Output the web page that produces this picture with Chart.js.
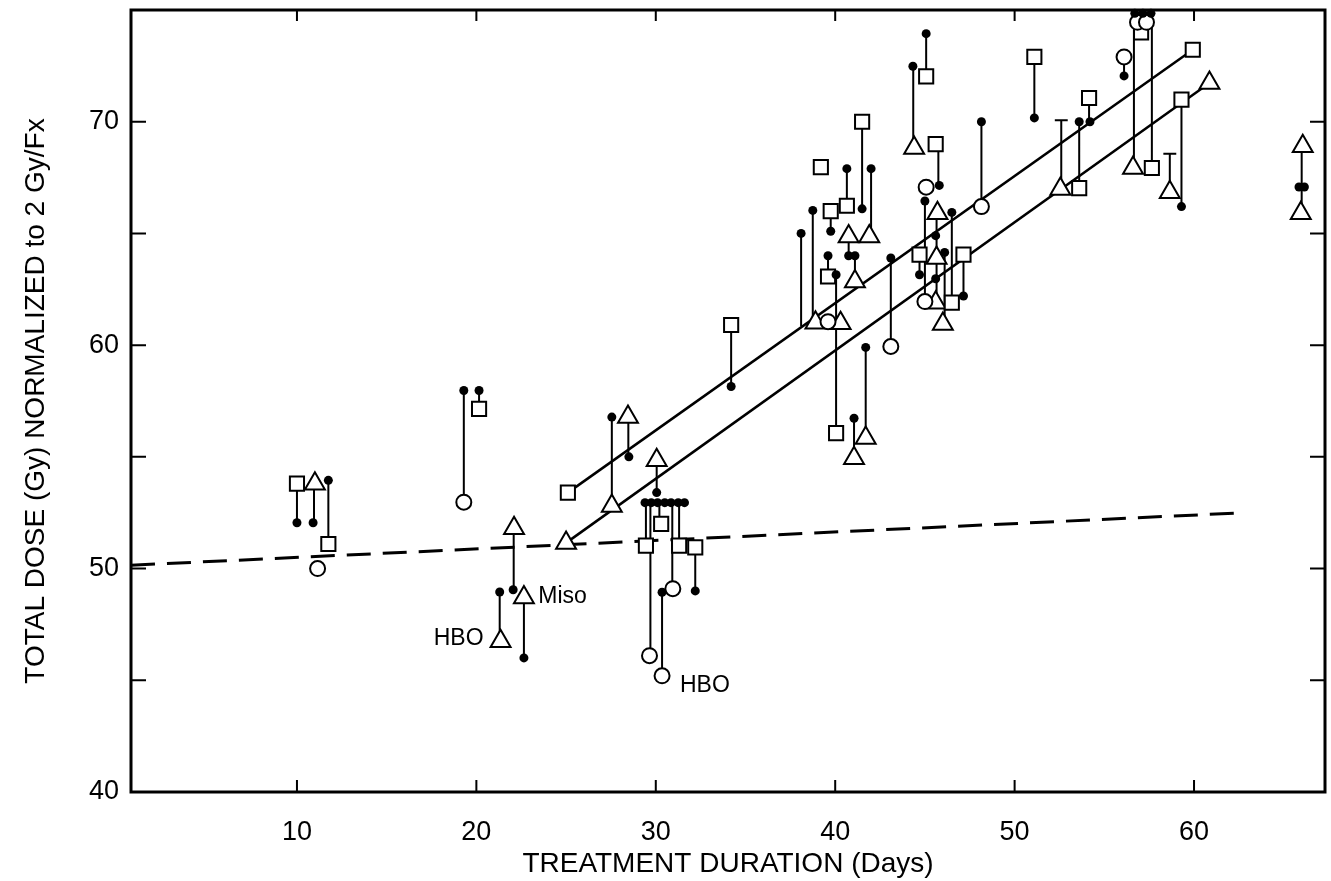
<!DOCTYPE html>
<html>
<head>
<meta charset="utf-8">
<script src="https://cdn.jsdelivr.net/npm/chart.js@4/dist/chart.umd.min.js"></script>
<style>
  html, body { margin: 0; padding: 0; background: #fff; }
  #wrap { width: 1331px; height: 881px; }
</style>
</head>
<body>
<div id="wrap"><canvas id="chart" width="1331" height="881"></canvas></div>
<script>
// values: [days, dose]
const dots = [
  [10.0, 52.05], [10.9, 52.05], [11.75, 53.95], [19.3, 57.97], [20.15, 57.97],
  [22.05, 49.05], [21.3, 48.95], [22.65, 46.0], [27.55, 56.78], [28.5, 55.0],
  [30.05, 53.4], [29.4, 52.95], [29.75, 52.95], [30.1, 52.95], [30.5, 52.95],
  [30.85, 52.95], [31.25, 52.95], [31.6, 52.95], [30.35, 48.94], [32.2, 49.0],
  [34.2, 58.15], [38.1, 65.0], [38.75, 66.03], [39.75, 65.1], [40.65, 67.9],
  [41.5, 66.1], [42.0, 67.9], [39.6, 64.0], [40.05, 63.15], [40.75, 64.0],
  [41.1, 64.0], [43.1, 63.9], [41.7, 59.9], [41.05, 56.73], [45.07, 73.94],
  [44.33, 72.48], [45.8, 67.15], [45.0, 66.45], [46.5, 65.94], [45.6, 64.9],
  [46.1, 64.15], [44.7, 63.15], [45.6, 62.97], [47.15, 62.2], [48.15, 70.0],
  [51.1, 70.17], [53.6, 70.0], [54.2, 70.0], [56.7, 74.85], [57.15, 74.85],
  [57.6, 74.85], [56.1, 72.05], [59.3, 66.2], [65.85, 67.08], [66.15, 67.08]
]
const circles = [
  [11.15, 50.0], [19.3, 52.97], [29.65, 46.1], [30.35, 45.2], [30.95, 49.1],
  [39.6, 61.05], [43.1, 59.94], [45.07, 67.07], [45.0, 61.95], [48.15, 66.2],
  [56.1, 72.9], [56.85, 74.45], [57.35, 74.45]
]
const squares = [
  [10.0, 53.8], [11.75, 51.1], [20.15, 57.15], [25.1, 53.4], [29.45, 51.03],
  [30.3, 52.0], [31.3, 51.03], [32.2, 50.95], [34.2, 60.9], [41.5, 70.0],
  [39.2, 67.97], [40.65, 66.24], [39.75, 66.0], [39.6, 63.07], [40.05, 56.06],
  [45.07, 72.03], [45.6, 69.0], [44.7, 64.05], [47.15, 64.05], [46.5, 61.9],
  [51.1, 72.9], [54.15, 71.06], [53.6, 67.03], [57.05, 74.0], [57.65, 67.93],
  [59.3, 70.99], [59.93, 73.22]
]
const triangles = [
  [11.0, 53.8], [22.1, 51.8], [21.35, 46.75], [22.65, 48.7], [25.0, 51.15],
  [27.55, 52.8], [28.45, 56.78], [30.05, 54.85], [38.9, 61.0], [40.3, 60.98],
  [41.9, 64.86], [40.75, 64.86], [41.1, 62.85], [41.7, 55.84], [41.05, 54.94],
  [44.4, 68.82], [45.7, 65.9], [45.65, 63.9], [45.6, 61.9], [46.0, 60.95],
  [52.55, 66.99], [56.6, 67.93], [58.65, 66.84], [60.86, 71.73], [66.06, 68.9],
  [65.95, 65.9]
]
// vertical links: [days, dose from, dose to]
const stems = [
  [10.0, 53.8, 52.05], [10.95, 53.8, 52.05], [11.75, 53.95, 51.1], [19.3, 57.97, 52.97],
  [20.15, 57.97, 57.15], [22.08, 51.8, 49.05], [21.3, 48.95, 46.75], [22.65, 48.7, 46.0],
  [27.55, 56.78, 52.8], [28.47, 56.78, 55.0], [30.05, 54.85, 53.4], [29.45, 52.95, 51.03],
  [29.7, 52.95, 46.1], [30.2, 52.95, 52.0], [30.35, 48.94, 45.2], [30.92, 52.95, 49.1],
  [31.3, 52.95, 51.03], [32.2, 50.95, 49.0], [34.2, 60.9, 58.15], [38.1, 65.0, 60.85],
  [38.75, 66.03, 61.0], [39.75, 66.0, 65.1], [40.65, 67.9, 66.24], [41.5, 70.0, 66.1],
  [42.0, 67.9, 64.86], [39.6, 64.0, 63.07], [40.05, 63.15, 56.06], [40.75, 64.86, 64.0],
  [41.1, 64.0, 62.85], [43.1, 63.9, 59.94], [41.7, 59.9, 55.84], [41.05, 56.73, 54.94],
  [45.07, 73.94, 72.03], [44.35, 72.48, 68.82], [45.75, 69.0, 67.15], [45.0, 66.45, 61.95],
  [45.65, 65.9, 61.9], [46.5, 65.94, 61.9], [46.1, 64.15, 60.95], [44.7, 64.05, 63.15],
  [47.15, 64.05, 62.2], [48.15, 70.0, 66.2], [51.1, 72.9, 70.17], [52.6, 70.06, 66.99],
  [53.6, 70.0, 67.03], [54.15, 71.06, 70.0], [56.65, 74.85, 67.93], [57.65, 74.85, 67.93],
  [56.1, 72.9, 72.05], [58.65, 68.57, 66.84], [59.3, 70.99, 66.2], [66.0, 68.9, 65.9]
]
const caps = [[52.6, 70.06], [58.65, 68.57]]
const upperFit = [[25.1, 53.4], [59.93, 73.22]]
const lowerFit = [[25.0, 51.15], [60.86, 71.73]]
const dashedFit = [[0.75, 50.15], [62.8, 52.5]]
const notes = [
  { text: 'HBO', x: 20.4, y: 46.85, align: 'right' },
  { text: 'Miso', x: 23.45, y: 48.75, align: 'left' },
  { text: 'HBO', x: 31.35, y: 44.75, align: 'left' },
]
const xTicks = [10, 20, 30, 40, 50, 60]
const yTicks = [40, 50, 60, 70]
const yMinor = [45, 55, 65]

const FONT = '"Liberation Sans", Arial, sans-serif'
const toPts = (arr) => arr.map(([x, y]) => ({ x, y }))

const segPts = []
for (const [x, y1, y2] of stems) segPts.push({ x, y: y1 }, { x, y: y2 }, { x, y: null })
for (const [x, y] of caps) segPts.push({ x: x - 0.36, y }, { x: x + 0.36, y }, { x, y: null })

// box, inward ticks and text notes
const frame = {
  id: 'frame',
  afterDatasetsDraw(chart) {
    const { ctx, chartArea: a, scales: { x, y } } = chart
    ctx.save()
    ctx.strokeStyle = '#000'
    ctx.lineWidth = 2
    for (const v of [...yTicks, ...yMinor]) {
      const py = y.getPixelForValue(v)
      ctx.beginPath()
      ctx.moveTo(a.left, py); ctx.lineTo(a.left + 15, py)
      ctx.moveTo(a.right, py); ctx.lineTo(a.right - 15, py)
      ctx.stroke()
    }
    for (const v of xTicks) {
      const px = x.getPixelForValue(v)
      ctx.beginPath()
      ctx.moveTo(px, a.bottom); ctx.lineTo(px, a.bottom - 12)
      ctx.moveTo(px, a.top); ctx.lineTo(px, a.top + 11)
      ctx.stroke()
    }
    ctx.lineWidth = 3
    ctx.strokeRect(a.left, a.top, a.right - a.left, a.bottom - a.top)

    ctx.fillStyle = '#000'
    ctx.font = '23px ' + FONT
    ctx.textBaseline = 'middle'
    for (const n of notes) {
      ctx.textAlign = n.align
      ctx.fillText(n.text, x.getPixelForValue(n.x), y.getPixelForValue(n.y))
    }
    ctx.restore()
  },
}

new Chart(document.getElementById('chart'), {
  type: 'scatter',
  data: {
    datasets: [
      {
        data: toPts(dots), order: 1, clip: false,
        pointStyle: 'circle', pointRadius: 4.5, backgroundColor: '#000', borderWidth: 0,
      },
      {
        data: toPts(circles), order: 2, clip: false,
        pointStyle: 'circle', pointRadius: 7.5, backgroundColor: '#fff', borderColor: '#000', borderWidth: 2,
      },
      {
        data: toPts(squares), order: 2, clip: false,
        pointStyle: 'rect', pointRadius: 10, backgroundColor: '#fff', borderColor: '#000', borderWidth: 2,
      },
      {
        data: toPts(triangles), order: 2, clip: false,
        pointStyle: 'triangle', pointRadius: 11.5, backgroundColor: '#fff', borderColor: '#000', borderWidth: 2,
      },
      {
        data: toPts(upperFit), order: 3, showLine: true, pointRadius: 0,
        borderColor: '#000', borderWidth: 2.5,
      },
      {
        data: toPts(lowerFit), order: 3, showLine: true, pointRadius: 0,
        borderColor: '#000', borderWidth: 2.5,
      },
      {
        data: toPts(dashedFit), order: 3, showLine: true, pointRadius: 0,
        borderColor: '#000', borderWidth: 3, borderDash: [24, 12],
      },
      {
        data: segPts, order: 4, showLine: true, spanGaps: false, pointRadius: 0,
        borderColor: '#000', borderWidth: 2,
      },
    ],
  },
  options: {
    responsive: false,
    animation: false,
    events: [],
    layout: { autoPadding: false, padding: { top: 10, right: 6, left: 0, bottom: 0 } },
    plugins: { legend: { display: false }, tooltip: { enabled: false } },
    scales: {
      x: {
        type: 'linear', min: 0.75, max: 67.3,
        afterBuildTicks: (s) => { s.ticks = xTicks.map((v) => ({ value: v })) },
        afterFit: (s) => { s.height = 89; s.paddingLeft = 0; s.paddingRight = 0 },
        grid: { display: false, drawTicks: false },
        border: { display: false },
        ticks: { color: '#000', padding: 24, maxRotation: 0, font: { family: FONT, size: 27 } },
        title: {
          display: true, text: 'TREATMENT DURATION (Days)', color: '#000',
          padding: { top: 0, bottom: 0 }, font: { family: FONT, size: 28 },
        },
      },
      y: {
        type: 'linear', min: 40, max: 75,
        afterBuildTicks: (s) => { s.ticks = yTicks.map((v) => ({ value: v })) },
        afterFit: (s) => { s.width = 131; s.paddingTop = 0; s.paddingBottom = 0 },
        grid: { display: false, drawTicks: false },
        border: { display: false },
        ticks: { color: '#000', padding: 12, font: { family: FONT, size: 27 } },
        title: {
          display: true, text: 'TOTAL DOSE (Gy) NORMALIZED to 2 Gy/Fx', color: '#000',
          padding: { top: 19, bottom: 0 }, font: { family: FONT, size: 28 },
        },
      },
    },
  },
  plugins: [frame],
})
</script>
</body>
</html>
